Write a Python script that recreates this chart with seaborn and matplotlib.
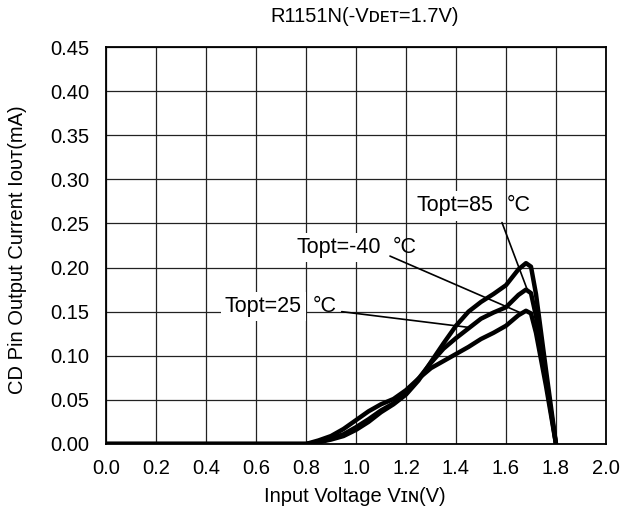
import numpy as np
import pandas as pd
import seaborn as sns
import matplotlib.pyplot as plt

# Input voltage (V) and CD pin output current (mA)
vin = [0.0, 0.6, 0.8, 0.85, 0.9, 0.95, 1.0, 1.05, 1.1, 1.15, 1.2, 1.25, 1.3, 1.35,
       1.4, 1.45, 1.5, 1.55, 1.6, 1.65, 1.68, 1.70, 1.72, 1.76, 1.8]
iout_85 = [0.0, 0.0, 0.0, 0.002, 0.005, 0.009, 0.016, 0.025, 0.036, 0.045, 0.056, 0.072,
           0.093, 0.114, 0.134, 0.150, 0.161, 0.170, 0.180, 0.198, 0.205, 0.201, 0.170, 0.084, 0.0]
iout_25 = [0.0, 0.0, 0.0, 0.002, 0.006, 0.011, 0.019, 0.028, 0.038, 0.046, 0.057, 0.074,
           0.092, 0.108, 0.120, 0.131, 0.142, 0.149, 0.155, 0.169, 0.175, 0.171, 0.145, 0.073, 0.0]
iout_m40 = [0.0, 0.0, 0.0, 0.004, 0.009, 0.017, 0.027, 0.037, 0.045, 0.051, 0.061, 0.074,
            0.086, 0.094, 0.102, 0.110, 0.119, 0.126, 0.134, 0.146, 0.151, 0.148, 0.126, 0.066, 0.0]

temps = ["85", "25", "-40"]
# label text position (x, y), degree-sign x, leader line end (x, y)
label_pos = {"85": (1.241, 0.2698), "25": (0.476, 0.1558), "-40": (0.763, 0.2227)}
deg_x = {"85": 1.603, "25": 0.828, "-40": 1.148}
leader = {"85": ((1.584, 0.251), (1.685, 0.175)),
          "25": ((0.943, 0.150), (1.456, 0.132)),
          "-40": ((1.136, 0.213), (1.656, 0.149))}

xticks = np.round(np.arange(0, 2.01, 0.2), 1)
yticks = np.round(np.arange(0, 0.451, 0.05), 2)

df = pd.concat([
    pd.DataFrame({"vin": vin, "iout": s, "topt": t})
    for t, s in zip(temps, [iout_85, iout_25, iout_m40])
])

sns.set_style("white")
plt.rcParams["font.family"] = ["Liberation Sans", "DejaVu Sans"]
plt.rcParams["text.color"] = "black"
plt.rcParams["xtick.color"] = "black"
plt.rcParams["ytick.color"] = "black"
plt.rcParams["axes.labelcolor"] = "black"

fig = plt.figure(figsize=(6.37, 5.15), dpi=100)
ax = fig.add_axes([0.1664, 0.1379, 0.7849, 0.7708])

sns.lineplot(data=df, x="vin", y="iout", hue="topt", palette=["black"] * 3,
             estimator=None, sort=False, legend=False, linewidth=3.2, ax=ax)
for line in ax.get_lines():
    line.set_solid_joinstyle("round")
    line.set_solid_capstyle("round")

ax.set_xlim(0, 2.0)
ax.set_ylim(0, 0.45)
ax.set_xticks(xticks)
ax.set_yticks(yticks)
ax.set_xticklabels([f"{v:.1f}" for v in xticks])
ax.set_yticklabels([f"{v:.2f}" for v in yticks])
ax.tick_params(axis="both", length=0, labelsize=14.5, labelcolor="black")
ax.tick_params(axis="x", pad=11)
ax.tick_params(axis="y", pad=12)
ax.grid(True, color="#222222", linewidth=0.9)
ax.set_axisbelow(True)
for sp in ax.spines.values():
    sp.set_color("black")
    sp.set_linewidth(1.3)

ax.set_xlabel("")
ax.set_ylabel("")

for t in temps:
    (x0, y0), (x1, y1) = leader[t]
    ax.plot([x0, x1], [y0, y1], color="black", linewidth=1.2, zorder=2.5)
    lx, ly = label_pos[t]
    ax.text(lx, ly, f"Topt={t}", fontsize=15.5, va="center", ha="left", zorder=4,
            color="black", bbox=dict(facecolor="white", edgecolor="none", pad=3))
    ax.text(deg_x[t], ly, "°C", fontsize=15.5, va="center", ha="left", zorder=4,
            color="black")

fig.text(365 / 637, 1 - 17 / 515, "R1151N(-Vᴅᴇᴛ=1.7V)", ha="center", va="center",
         fontsize=14.5, color="black")
fig.text(355 / 637, 1 - 497 / 515, "Input Voltage Vɪɴ(V)", ha="center", va="center",
         fontsize=14.5, color="black")
fig.text(18 / 637, 1 - 250 / 515, "CD Pin Output Current Iᴏᴜᴛ(mA)", ha="center", va="center",
         rotation=90, fontsize=14.5, color="black")

fig.savefig("out.png", dpi=100, facecolor="white")
